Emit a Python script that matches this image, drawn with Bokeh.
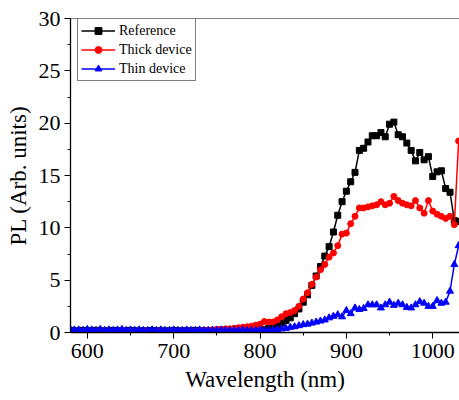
from bokeh.plotting import figure
from bokeh.models import Range1d, SingleIntervalTicker, Legend, LegendItem, Span, LinearAxis
from bokeh.embed import file_html
from bokeh.resources import INLINE

wavelength = list(range(580, 1031, 5))

reference = [
    0.2, 0.15, 0.15, 0.2, 0.15, 0.15, 0.2, 0.15, 0.15, 0.15,
    0.2, 0.15, 0.15, 0.15, 0.2, 0.15, 0.15, 0.15, 0.15, 0.2,
    0.15, 0.15, 0.15, 0.15, 0.2, 0.15, 0.15, 0.15, 0.15, 0.2,
    0.15, 0.15, 0.15, 0.2, 0.2, 0.2, 0.2, 0.2, 0.2, 0.25,
    0.25, 0.25, 0.25, 0.25,
    0.25, 0.3, 0.4, 0.5, 0.7, 0.9, 1.15, 1.4, 1.8, 2.25,
    2.9, 3.6, 4.5, 5.4, 6.3, 7.3, 8.2, 9.6, 11.2, 12.5,
    13.5, 14.4, 15.3, 17.4, 17.6, 18.2, 18.8, 18.8, 19.1, 18.7,
    19.9, 20.1, 18.9, 18.7, 18.1, 17.4, 16.4, 17.2, 16.5, 16.8,
    14.9, 15.35, 15.45, 13.75, 13.4, 10.7, 10.6,
]

thick = [
    0.15, 0.1, 0.1, 0.15, 0.1, 0.1, 0.1, 0.15, 0.1, 0.1,
    0.1, 0.1, 0.15, 0.1, 0.1, 0.1, 0.1, 0.15, 0.1, 0.1,
    0.1, 0.15, 0.1, 0.1, 0.15, 0.15, 0.1, 0.15, 0.15, 0.15,
    0.15, 0.2,
    0.2, 0.25, 0.3, 0.3, 0.35, 0.35, 0.4, 0.45, 0.5, 0.55,
    0.6, 0.7, 0.8, 1.05, 1.0, 1.0, 1.2, 1.5, 1.8, 1.9,
    2.1, 2.5, 3.2, 3.8, 4.6, 5.3, 6.0, 6.5, 7.2, 7.6,
    8.3, 9.4, 9.5, 10.4, 11.1, 11.9, 11.9, 12.0, 12.1, 12.2,
    12.5, 12.2, 12.35, 13.0, 12.6, 12.35, 12.2, 12.1, 12.6, 11.9,
    11.4, 12.6, 11.6, 11.3, 11.1, 10.9, 11.1, 10.3, 18.3,
]

thin = [
    0.35, 0.25, 0.25, 0.2, 0.3, 0.25, 0.2, 0.3, 0.2, 0.25,
    0.2, 0.25, 0.3, 0.2, 0.25, 0.2, 0.25, 0.2, 0.2, 0.25,
    0.2, 0.25, 0.2, 0.2, 0.25, 0.2, 0.2, 0.25, 0.2, 0.2,
    0.25, 0.2, 0.2, 0.2, 0.2, 0.25, 0.2, 0.2, 0.2, 0.2,
    0.25, 0.2, 0.2, 0.2, 0.25, 0.2, 0.2, 0.25,
    0.3, 0.35, 0.4, 0.5, 0.55, 0.65, 0.75, 0.8, 0.9, 1.0,
    1.1, 1.2, 1.4, 1.55, 1.7, 1.5, 2.1, 1.8, 2.35, 2.2,
    2.3, 2.65, 2.65, 2.65, 2.35, 2.65, 2.9, 2.6, 2.8, 2.65,
    2.4, 2.35, 2.65, 2.95, 2.8, 2.5, 2.5, 3.05, 2.8, 2.9,
    3.95, 6.5, 8.3,
]

series_names = ["Reference", "Thick device", "Thin device"]

FONT = "Liberation Serif"

p = figure(width=459, height=400, output_backend="svg", toolbar_location=None,
           x_range=Range1d(580.5, 1031), y_range=Range1d(0, 30),
           x_axis_location=None, y_axis_location=None,
           min_border_left=70, min_border_right=0, min_border_top=18,
           min_border_bottom=68)
p.outline_line_color = None
p.grid.visible = False
p.background_fill_color = "white"
p.border_fill_color = "white"


def style_axis(ax):
    ax.axis_line_color = "black"
    ax.axis_line_width = 1.3
    ax.major_tick_in = 0
    ax.major_tick_out = 6
    ax.minor_tick_in = 0
    ax.minor_tick_out = 3
    ax.major_tick_line_color = "black"
    ax.minor_tick_line_color = "black"
    ax.major_label_text_font = FONT
    ax.major_label_text_font_size = "22px"
    ax.major_label_text_color = "black"
    ax.axis_label_text_font = FONT
    ax.axis_label_text_font_size = "23px"
    ax.axis_label_text_font_style = "normal"
    ax.axis_label_text_color = "black"


xaxis = LinearAxis(ticker=SingleIntervalTicker(interval=100, num_minor_ticks=2),
                   axis_label="Wavelength (nm)")
yaxis = LinearAxis(ticker=SingleIntervalTicker(interval=5, num_minor_ticks=2),
                   axis_label="PL (Arb. units)")
style_axis(xaxis)
style_axis(yaxis)
xaxis.major_label_standoff = 5
yaxis.major_label_standoff = 4
xaxis.axis_label_standoff = 6
yaxis.axis_label_standoff = 5
p.add_layout(yaxis, "left")
p.add_layout(xaxis, "below")

p.add_layout(Span(location=30, dimension="width", line_color="black", line_width=1))

specs = [
    (reference, "black", "square", 6),
    (thick, "red", "circle", 6),
    (thin, "blue", "triangle", 7),
]
items = []
for name, (vals, col, mk, sz) in zip(series_names, specs):
    ln = p.line(wavelength, vals, line_color=col, line_width=1.5)
    sc = p.scatter(wavelength, vals, marker=mk, size=sz, fill_color=col, line_color=col)
    items.append(LegendItem(label=name, renderers=[ln, sc]))

legend = Legend(items=items, location=(7, 251), margin=0, padding=3,
                spacing=2, glyph_width=34, glyph_height=17, label_height=17,
                label_standoff=4, label_text_font=FONT, label_text_font_size="14px",
                label_text_color="black", border_line_color="black",
                border_line_width=1, background_fill_alpha=1)
p.add_layout(legend)

open("out.html", "w").write(file_html(p, INLINE))
